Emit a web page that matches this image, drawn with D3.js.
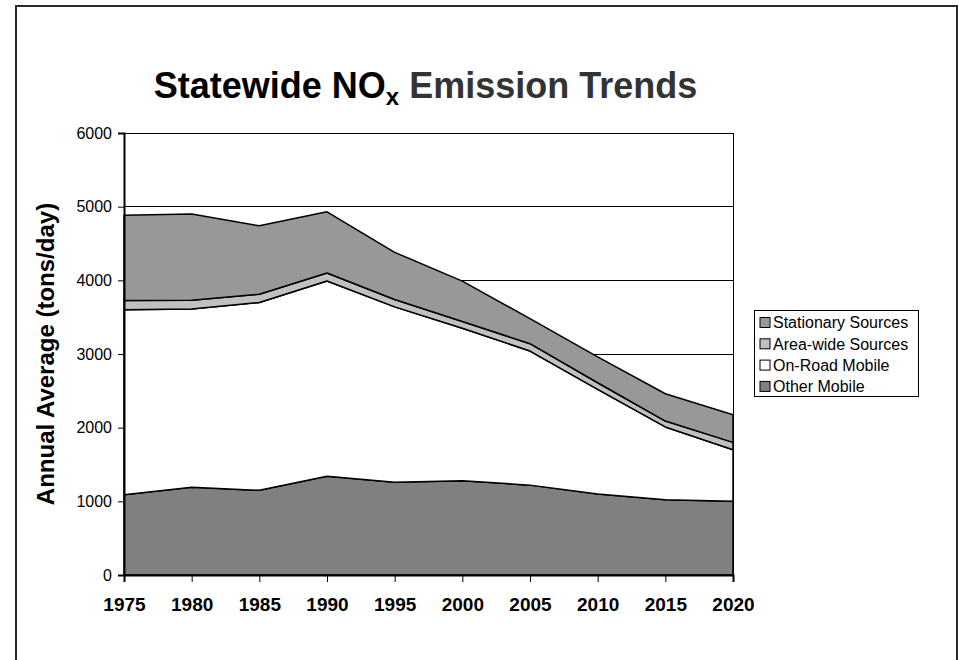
<!DOCTYPE html>
<html>
<head>
<meta charset="utf-8">
<script src="https://cdn.jsdelivr.net/npm/d3@7"></script>
<style>
  html, body { margin: 0; padding: 0; background: #fff; }
  svg { display: block; font-family: "Liberation Sans", Arial, sans-serif; }
</style>
</head>
<body>
<svg id="chart" width="959" height="660"></svg>
<script>
// Statewide NOx emissions by source category (tons/day, annual average)
const years = [1975, 1980, 1985, 1990, 1995, 2000, 2005, 2010, 2015, 2020];
const otherMobile      = [1090, 1190, 1150, 1340, 1260, 1280, 1220, 1100, 1020, 1000];
const onRoadMobile     = [2510, 2420, 2550, 2650, 2380, 2070, 1820, 1420,  990,  700];
const areaWideSources  = [ 125,  120,  110,  110,  100,   90,  100,   90,   80,  100];
const stationarySources= [1160, 1170,  930,  830,  640,  550,  340,  350,  370,  375];
const yTicks = [0, 1000, 2000, 3000, 4000, 5000, 6000];

// stacking order, bottom to top
const seriesNames = ["Other Mobile", "On-Road Mobile", "Area-wide Sources", "Stationary Sources"];
const seriesValues = [otherMobile, onRoadMobile, areaWideSources, stationarySources];
const seriesFill = {
  "Other Mobile": "#808080",
  "On-Road Mobile": "#ffffff",
  "Area-wide Sources": "#c0c0c0",
  "Stationary Sources": "#979897"
};
const legendOrder = ["Stationary Sources", "Area-wide Sources", "On-Road Mobile", "Other Mobile"];

const rows = years.map((y, i) => {
  const r = { year: y };
  seriesNames.forEach((n, k) => { r[n] = seriesValues[k][i]; });
  return r;
});

const svg = d3.select("#chart");

// chart frame
svg.append("rect")
  .attr("x", 16).attr("y", 6)
  .attr("width", 941).attr("height", 700)
  .attr("fill", "#fff")
  .attr("stroke", "#2b2b2b")
  .attr("stroke-width", 2);

const plot = { left: 124, right: 733, top: 133, bottom: 575 };

const x = d3.scaleLinear().domain([1975, 2020]).range([plot.left, plot.right]);
const y = d3.scaleLinear().domain([0, 6000]).range([plot.bottom, plot.top]);

// gridlines
svg.append("g")
  .selectAll("line")
  .data(yTicks.filter(t => t > 0))
  .join("line")
  .attr("x1", plot.left).attr("x2", plot.right)
  .attr("y1", d => y(d)).attr("y2", d => y(d))
  .attr("stroke", "#000").attr("stroke-width", 1)
  .attr("shape-rendering", "crispEdges");

// stacked areas
const stacked = d3.stack().keys(seriesNames)(rows);
const area = d3.area()
  .x(d => x(d.data.year))
  .y0(d => y(d[0]))
  .y1(d => y(d[1]));

svg.append("g")
  .selectAll("path")
  .data(stacked)
  .join("path")
  .attr("d", area)
  .attr("fill", d => seriesFill[d.key])
  .attr("stroke", "#000")
  .attr("stroke-width", 1.5)
  .attr("stroke-linejoin", "round");

// right border of plot
svg.append("line")
  .attr("x1", plot.right).attr("x2", plot.right)
  .attr("y1", plot.top).attr("y2", plot.bottom)
  .attr("stroke", "#000").attr("stroke-width", 1)
  .attr("shape-rendering", "crispEdges");

// y axis
const yAxis = svg.append("g")
  .attr("transform", `translate(${plot.left},0)`)
  .call(d3.axisLeft(y).tickValues(yTicks).tickFormat(d3.format("d")).tickSize(6).tickPadding(6));
yAxis.select(".domain").attr("stroke", "#000").attr("stroke-width", 2);
yAxis.selectAll(".tick line").attr("stroke", "#000");
yAxis.selectAll("text")
  .attr("font-size", 16)
  .attr("fill", "#000")
  .attr("font-family", "Liberation Sans, Arial, sans-serif");

// x axis
const xAxis = svg.append("g")
  .attr("transform", `translate(0,${plot.bottom})`)
  .call(d3.axisBottom(x).tickValues(years).tickFormat(d3.format("d")).tickSize(7).tickPadding(16));
xAxis.select(".domain").attr("stroke", "#000").attr("stroke-width", 2);
xAxis.selectAll(".tick line").attr("stroke", "#000");
xAxis.selectAll("text")
  .attr("font-size", 19)
  .attr("font-weight", "bold")
  .attr("fill", "#000")
  .attr("font-family", "Liberation Sans, Arial, sans-serif");

// title
const title = svg.append("text")
  .attr("x", (plot.left + plot.right) / 2 - 3)
  .attr("y", 98)
  .attr("text-anchor", "middle")
  .attr("font-size", 36)
  .attr("font-weight", "bold");
title.append("tspan").attr("fill", "#000").text("Statewide NO");
title.append("tspan").attr("fill", "#000").attr("font-size", 24).attr("dy", 7).text("x");
title.append("tspan").attr("fill", "#333").attr("dy", -7).text(" Emission Trends");

// y axis title
svg.append("text")
  .attr("transform", `translate(54,${(plot.top + plot.bottom) / 2}) rotate(-90)`)
  .attr("text-anchor", "middle")
  .attr("font-size", 24)
  .attr("font-weight", "bold")
  .attr("fill", "#000")
  .text("Annual Average (tons/day)");

// legend
const lg = svg.append("g").attr("transform", "translate(754,310)");
lg.append("rect")
  .attr("width", 164).attr("height", 86)
  .attr("fill", "#fff").attr("stroke", "#000").attr("stroke-width", 1)
  .attr("shape-rendering", "crispEdges");
const items = lg.selectAll("g.item")
  .data(legendOrder)
  .join("g")
  .attr("class", "item")
  .attr("transform", (d, i) => `translate(6,${12.5 + i * 21.3})`);
items.append("rect")
  .attr("x", 0).attr("y", -5)
  .attr("width", 10).attr("height", 10)
  .attr("fill", d => seriesFill[d])
  .attr("stroke", "#000").attr("stroke-width", 1);
items.append("text")
  .attr("x", 13).attr("y", 0)
  .attr("dy", "0.36em")
  .attr("font-size", 16)
  .attr("fill", "#000")
  .text(d => d);
</script>
</body>
</html>
